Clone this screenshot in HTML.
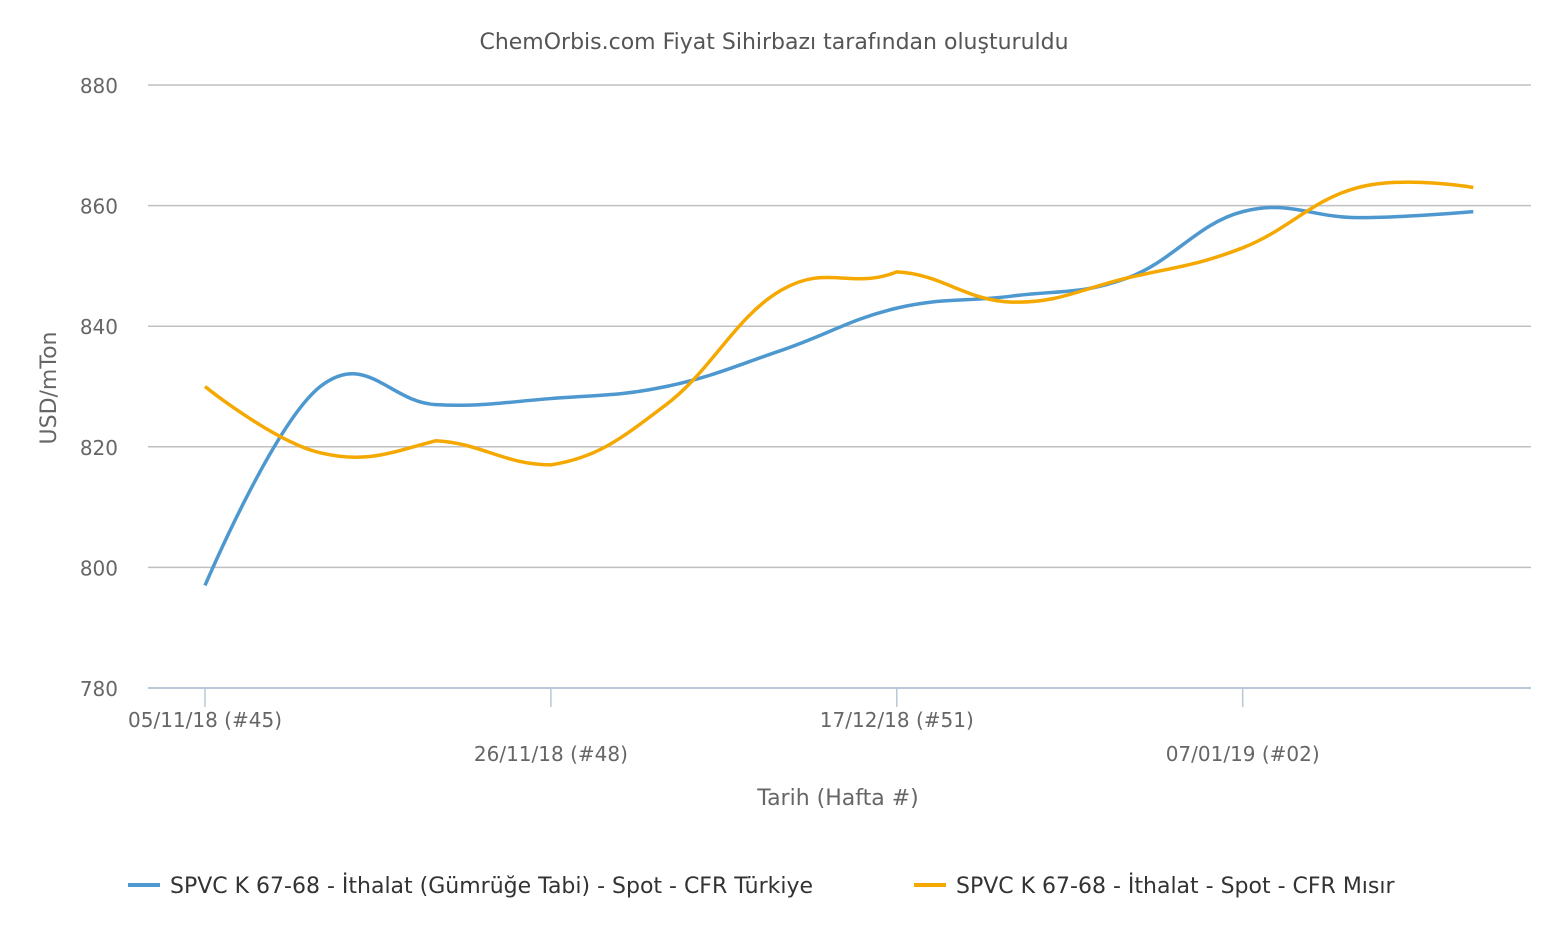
<!DOCTYPE html>
<html><head><meta charset="utf-8"><style>body{margin:0;background:#fff}svg text{font-family:"DejaVu Sans","Liberation Sans",sans-serif}</style></head>
<body>
<svg id="chart" width="1552" height="930" xmlns="http://www.w3.org/2000/svg">
<text x="774" y="49" text-anchor="middle" font-size="22" fill="#555">ChemOrbis.com Fiyat Sihirbazı tarafından oluşturuldu</text>
<g id="grid"></g><g id="xaxis"></g><g id="series"></g>
<text transform="translate(56,388) rotate(-90)" text-anchor="middle" font-size="22" fill="#666">USD/mTon</text>
<text x="838" y="805" text-anchor="middle" font-size="22" fill="#666">Tarih (Hafta #)</text>
<g>
<g><line x1="128" y1="885" x2="160" y2="885" stroke="#4e98d0" stroke-width="4"/><text x="170" y="893" font-size="22" fill="#333">SPVC K 67-68 - İthalat (Gümrüğe Tabi) - Spot - CFR Türkiye</text></g>
<g><line x1="914" y1="885" x2="946" y2="885" stroke="#f5a800" stroke-width="4"/><text x="956" y="893" font-size="22" fill="#333">SPVC K 67-68 - İthalat - Spot - CFR Mısır</text></g>
</g>
</svg>
<script>
const categories=["05/11/18 (#45)","12/11/18 (#46)","19/11/18 (#47)","26/11/18 (#48)","03/12/18 (#49)","10/12/18 (#50)","17/12/18 (#51)","24/12/18 (#52)","31/12/18 (#01)","07/01/19 (#02)","14/01/19 (#03)","21/01/19 (#04)"];
const turkiye=[797,830,827,828,830,836,843,845,848,859,858,859];
const misir=[830,819,821,817,827,846,849,844,848,853,863,863];
const yTicks=[780,800,820,840,860,880];
const NS="http://www.w3.org/2000/svg";
const x0=205,dx=115.3,yMin=780,yMax=880,yTop=85,yBot=688;
const X=i=>x0+i*dx, Y=v=>yBot-(v-yMin)/(yMax-yMin)*(yBot-yTop);
function mk(t,a,p){const e=document.createElementNS(NS,t);for(const k in a)e.setAttribute(k,a[k]);p.appendChild(e);return e;}
const grid=document.getElementById('grid');
yTicks.forEach(v=>{
 const l=mk('line',{x1:148,x2:1531,y1:Y(v),y2:Y(v),stroke:v===yMin?'#b8c8d8':'#c0c0c0','stroke-width':v===yMin?2:1.5},grid);
 
 
 const t=mk('text',{x:118,y:Y(v)+8,'text-anchor':'end','font-size':20,fill:'#666'},grid);t.textContent=v;
 
 
});
const xa=document.getElementById('xaxis');
categories.forEach((c,i)=>{
 if(i%3) return;
 const tk=mk('line',{x1:X(i),x2:X(i),y1:yBot,y2:yBot+19,stroke:'#b8c8d8','stroke-width':1.5},xa);
 
 
 const t=mk('text',{x:X(i),y:(i/3)%2?761:727,'text-anchor':'middle','font-size':20,fill:'#666'},xa);t.textContent=c;
 
 
});
function path(vals){
 const p=vals.map((v,i)=>[X(i),Y(v)]);let d='M'+p[0][0]+','+p[0][1];const s=1.5;
 for(let i=1;i<p.length;i++){
  const a=p[i-1],b=p[i],pa=p[i-2]||a,nb=p[i+1]||b;
  const cp=(prev,cur,next)=>{
   const lx=(s*cur[0]+prev[0])/(s+1),ly=(s*cur[1]+prev[1])/(s+1),rx=(s*cur[0]+next[0])/(s+1),ry=(s*cur[1]+next[1])/(s+1);
   let c=0;if(rx!==lx)c=(ry-ly)/(rx-lx);
   let lY=ly,rY=ry;
   if(prev!==cur&&next!==cur){const cor=(cur[1]-ly)+(lx-cur[0])*c;lY=ly+cor;rY=ry+cor;
     if((lY>prev[1]&&lY>cur[1])||(lY<prev[1]&&lY<cur[1])){lY=Math.max(prev[1],cur[1]);if(lY!==Math.max(prev[1],cur[1]))lY=Math.min(prev[1],cur[1]);}
   }else{lY=cur[1];rY=cur[1];}
   return {lx,ly:lY,rx,ry:rY};
  };
  const A=cp(pa,a,b),B=cp(a,b,nb);
  const c1=i===1?[a[0],a[1]]:[A.rx,A.ry],c2=i===p.length-1?[b[0],b[1]]:[B.lx,B.ly];
  d+=` C${c1[0]},${c1[1]} ${c2[0]},${c2[1]} ${b[0]},${b[1]}`;
 }
 return d;
}
const sg=document.getElementById('series');
const p1=mk('path',{d:path(turkiye),fill:'none',stroke:'#4e98d0','stroke-width':3.5},sg);


const p2=mk('path',{d:path(misir),fill:'none',stroke:'#f5a800','stroke-width':3.5},sg);


</script>
</body></html>
